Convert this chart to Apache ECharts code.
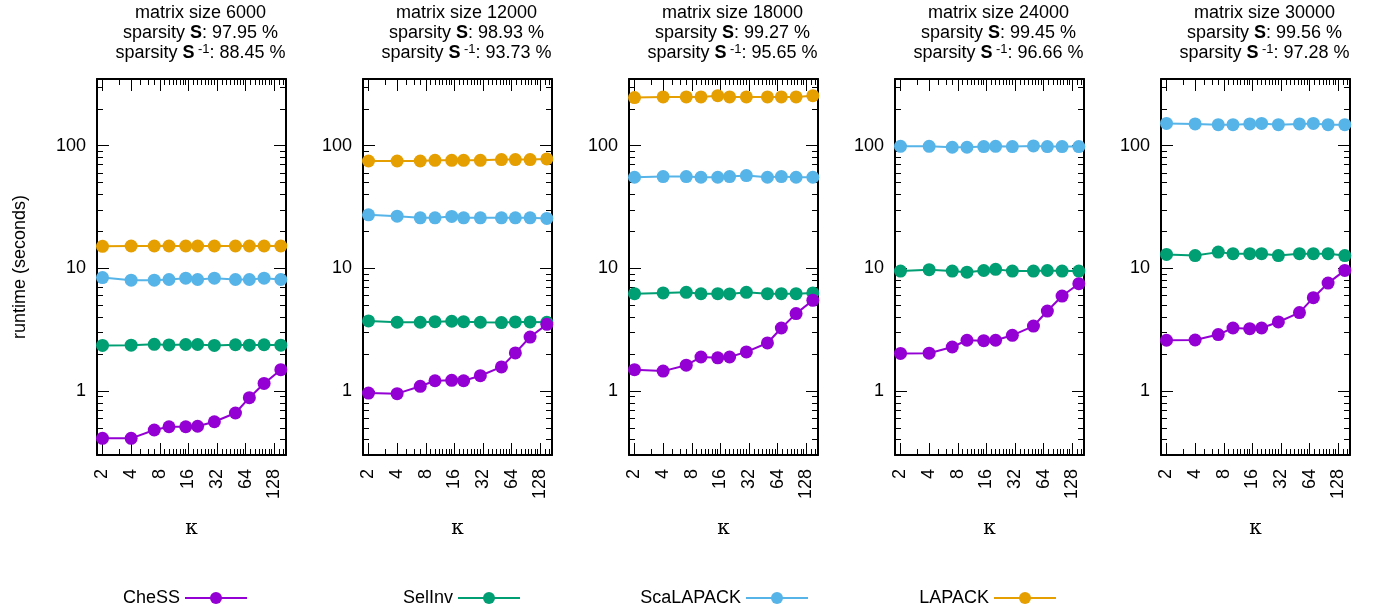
<!DOCTYPE html>
<html>
<head>
<meta charset="utf-8">
<script src="https://cdn.jsdelivr.net/npm/echarts@6/dist/echarts.min.js"></script>
<style>html,body{margin:0;padding:0;background:#fff;}#c{width:1379px;height:614px;}</style>
</head>
<body>
<div id="c"></div>
<script>
// ---- data ----
const kappa = [2, 4, 7, 10, 15, 20, 30, 50, 70, 100, 150];
const xMajorTicks = [2, 4, 8, 16, 32, 64, 128];
const xMinorTicks = [3, 5, 6, 7, 9, 10, 11, 12, 13, 14, 15, 18, 20, 22, 24, 26, 28, 30, 36, 40, 44, 48, 52, 56, 60, 72, 80, 88, 96, 104, 112, 120, 144, 160];
const yMajorTicks = [1, 10, 100];
const yMinorTicks = [0.3, 0.4, 0.5, 0.6, 0.7, 0.8, 0.9, 2, 3, 4, 5, 6, 7, 8, 9, 20, 30, 40, 50, 60, 70, 80, 90, 200, 300];

const matrixSizes = [6000, 12000, 18000, 24000, 30000];
const sparsityS = ['97.95', '98.93', '99.27', '99.45', '99.56'];
const sparsitySinv = ['88.45', '93.73', '95.65', '96.66', '97.28'];

const chess6000 = [0.41, 0.41, 0.48, 0.51, 0.51, 0.515, 0.56, 0.66, 0.88, 1.15, 1.49];
const selinv6000 = [2.35, 2.36, 2.40, 2.37, 2.39, 2.39, 2.35, 2.38, 2.36, 2.38, 2.36];
const scalapack6000 = [8.4, 8.0, 8.0, 8.1, 8.3, 8.1, 8.3, 8.1, 8.1, 8.3, 8.1];
const lapack6000 = [15.1, 15.2, 15.2, 15.2, 15.2, 15.2, 15.2, 15.2, 15.2, 15.2, 15.2];

const chess12000 = [0.96, 0.95, 1.09, 1.21, 1.22, 1.21, 1.33, 1.57, 2.04, 2.75, 3.49];
const selinv12000 = [3.72, 3.63, 3.63, 3.67, 3.70, 3.67, 3.63, 3.61, 3.65, 3.65, 3.63];
const scalapack12000 = [27.3, 26.6, 25.8, 25.8, 26.5, 25.8, 25.8, 25.8, 25.8, 25.8, 25.5];
const lapack12000 = [75, 75, 75, 76, 76, 76, 76, 77, 77, 77, 78];

const chess18000 = [1.49, 1.45, 1.62, 1.89, 1.86, 1.89, 2.08, 2.46, 3.26, 4.27, 5.48];
const selinv18000 = [6.21, 6.30, 6.37, 6.20, 6.21, 6.18, 6.37, 6.21, 6.21, 6.21, 6.30];
const scalapack18000 = [55.3, 56, 56, 55.3, 55.3, 56, 57.1, 55.3, 56, 55.3, 55.3];
const lapack18000 = [247, 250, 250, 250, 256, 250, 250, 250, 250, 250, 256];

const chess24000 = [2.02, 2.03, 2.28, 2.59, 2.57, 2.59, 2.84, 3.38, 4.48, 5.94, 7.49];
const selinv24000 = [9.5, 9.75, 9.5, 9.3, 9.6, 9.8, 9.5, 9.5, 9.6, 9.5, 9.5];
const scalapack24000 = [98.9, 98.9, 97.1, 97.1, 98.3, 98.9, 98.3, 99.6, 98.3, 98.3, 98.3];

const chess30000 = [2.59, 2.60, 2.88, 3.26, 3.22, 3.26, 3.65, 4.35, 5.76, 7.57, 9.61];
const selinv30000 = [12.97, 12.7, 13.55, 13.15, 13.15, 13.15, 12.7, 13.15, 13.15, 13.15, 12.7];
const scalapack30000 = [152, 150.6, 148.5, 148.5, 150.6, 152, 148.5, 150.6, 152, 148.5, 148.5];

const seriesNames = ['CheSS', 'SelInv', 'ScaLAPACK', 'LAPACK'];
const seriesColors = ['#9400d3', '#009e73', '#56b4e9', '#e69f00'];
const panelData = [
  [chess6000, selinv6000, scalapack6000, lapack6000],
  [chess12000, selinv12000, scalapack12000, lapack12000],
  [chess18000, selinv18000, scalapack18000, lapack18000],
  [chess24000, selinv24000, scalapack24000, null],
  [chess30000, selinv30000, scalapack30000, null]
];

// ---- layout ----
const FONT = 'Liberation Sans, Arial, Helvetica, sans-serif';
const GRID_LEFT0 = 97, GRID_STEP = 266, GRID_W = 189, GRID_TOP = 79, GRID_H = 376;
const X_MIN = 1.75, X_MAX = 170, Y_MIN = 0.3, Y_MAX = 350;

const grids = [], xAxes = [], yAxes = [], series = [], titles = [];

for (let p = 0; p < 5; p++) {
  const left = GRID_LEFT0 + GRID_STEP * p;
  grids.push({ left: left, top: GRID_TOP, width: GRID_W, height: GRID_H, containLabel: false });

  const baseX = {
    type: 'log', logBase: 2, min: X_MIN, max: X_MAX, gridIndex: p,
    splitLine: { show: false }, minorTick: { show: false }
  };
  xAxes.push(Object.assign({}, baseX, {
    position: 'bottom',
    axisLine: { show: true, onZero: false, lineStyle: { color: '#000', width: 2 } },
    axisTick: { show: true, inside: true, length: 12, customValues: xMajorTicks, lineStyle: { color: '#000', width: 1 } },
    axisLabel: { show: true, customValues: xMajorTicks, rotate: 90, margin: 14, color: '#000', fontSize: 18, fontFamily: FONT },
    name: 'κ', nameLocation: 'middle', nameGap: 64,
    nameTextStyle: { color: '#000', fontSize: 20, fontFamily: 'DejaVu Serif, serif' }
  }));
  xAxes.push(Object.assign({}, baseX, {
    position: 'bottom',
    axisLine: { show: false, onZero: false },
    axisTick: { show: true, inside: true, length: 6, customValues: xMinorTicks, lineStyle: { color: '#000', width: 1 } },
    axisLabel: { show: false }
  }));
  xAxes.push(Object.assign({}, baseX, {
    position: 'top',
    axisLine: { show: true, onZero: false, lineStyle: { color: '#000', width: 2 } },
    axisTick: { show: true, inside: true, length: 12, customValues: xMajorTicks, lineStyle: { color: '#000', width: 1 } },
    axisLabel: { show: false }
  }));
  xAxes.push(Object.assign({}, baseX, {
    position: 'top',
    axisLine: { show: false, onZero: false },
    axisTick: { show: true, inside: true, length: 6, customValues: xMinorTicks, lineStyle: { color: '#000', width: 1 } },
    axisLabel: { show: false }
  }));

  const baseY = {
    type: 'log', logBase: 10, min: Y_MIN, max: Y_MAX, gridIndex: p,
    splitLine: { show: false }, minorTick: { show: false }
  };
  const leftMajor = Object.assign({}, baseY, {
    position: 'left',
    axisLine: { show: true, onZero: false, lineStyle: { color: '#000', width: 2 } },
    axisTick: { show: true, inside: true, length: 12, customValues: yMajorTicks, lineStyle: { color: '#000', width: 1 } },
    axisLabel: { show: true, customValues: yMajorTicks, margin: 11, color: '#000', fontSize: 18, fontFamily: FONT }
  });
  if (p === 0) {
    leftMajor.name = 'runtime (seconds)';
    leftMajor.nameLocation = 'middle';
    leftMajor.nameGap = 68;
    leftMajor.nameTextStyle = { color: '#000', fontSize: 18, fontFamily: FONT };
  }
  yAxes.push(leftMajor);
  yAxes.push(Object.assign({}, baseY, {
    position: 'left',
    axisLine: { show: false, onZero: false },
    axisTick: { show: true, inside: true, length: 6, customValues: yMinorTicks, lineStyle: { color: '#000', width: 1 } },
    axisLabel: { show: false }
  }));
  yAxes.push(Object.assign({}, baseY, {
    position: 'right',
    axisLine: { show: true, onZero: false, lineStyle: { color: '#000', width: 2 } },
    axisTick: { show: true, inside: true, length: 12, customValues: yMajorTicks, lineStyle: { color: '#000', width: 1 } },
    axisLabel: { show: false }
  }));
  yAxes.push(Object.assign({}, baseY, {
    position: 'right',
    axisLine: { show: false, onZero: false },
    axisTick: { show: true, inside: true, length: 6, customValues: yMinorTicks, lineStyle: { color: '#000', width: 1 } },
    axisLabel: { show: false }
  }));

  for (let s = 3; s >= 0; s--) {
    const vals = panelData[p][s];
    if (!vals) continue;
    series.push({
      type: 'line', name: seriesNames[s],
      xAxisIndex: 4 * p, yAxisIndex: 4 * p,
      data: kappa.map((k, i) => [k, vals[i]]),
      symbol: 'circle', symbolSize: 13, showSymbol: true,
      color: seriesColors[s],
      lineStyle: { color: seriesColors[s], width: 2 },
      itemStyle: { color: seriesColors[s] },
      z: 2 + (3 - s),
      clip: false,
      animation: false
    });
  }

  titles.push({
    left: left + GRID_W / 2 + 4, top: -2, textAlign: 'center',
    text: 'matrix size ' + matrixSizes[p] + '\n' +
      '{n|sparsity }{b|S}{n|: ' + sparsityS[p] + ' %}\n' +
      '{n|sparsity }{b|S}{sup| -1}{n|: ' + sparsitySinv[p] + ' %}',
    textStyle: {
      color: '#000', fontSize: 18, fontWeight: 'normal', fontFamily: FONT, lineHeight: 20,
      rich: {
        n: { color: '#000', fontSize: 18, fontFamily: FONT, lineHeight: 20 },
        b: { color: '#000', fontSize: 18, fontWeight: 'bold', fontFamily: FONT, lineHeight: 20 },
        sup: { color: '#000', fontSize: 13, fontFamily: FONT, lineHeight: 20, verticalAlign: 'top' }
      }
    }
  });
}

const legendEnds = [253, 526, 814, 1062];
const legends = seriesNames.map((nm, i) => ({
  data: [nm],
  right: 1379 - legendEnds[i],
  top: 584,
  orient: 'horizontal',
  align: 'right',
  itemWidth: 62, itemHeight: 15, itemGap: 10,
  selectedMode: false,
  textStyle: { color: '#000', fontSize: 18, fontFamily: FONT }
}));

const chart = echarts.init(document.getElementById('c'), null, { renderer: 'canvas' });
chart.setOption({
  animation: false,
  backgroundColor: '#fff',
  title: titles,
  legend: legends,
  grid: grids,
  xAxis: xAxes,
  yAxis: yAxes,
  series: series
});
</script>
</body>
</html>
